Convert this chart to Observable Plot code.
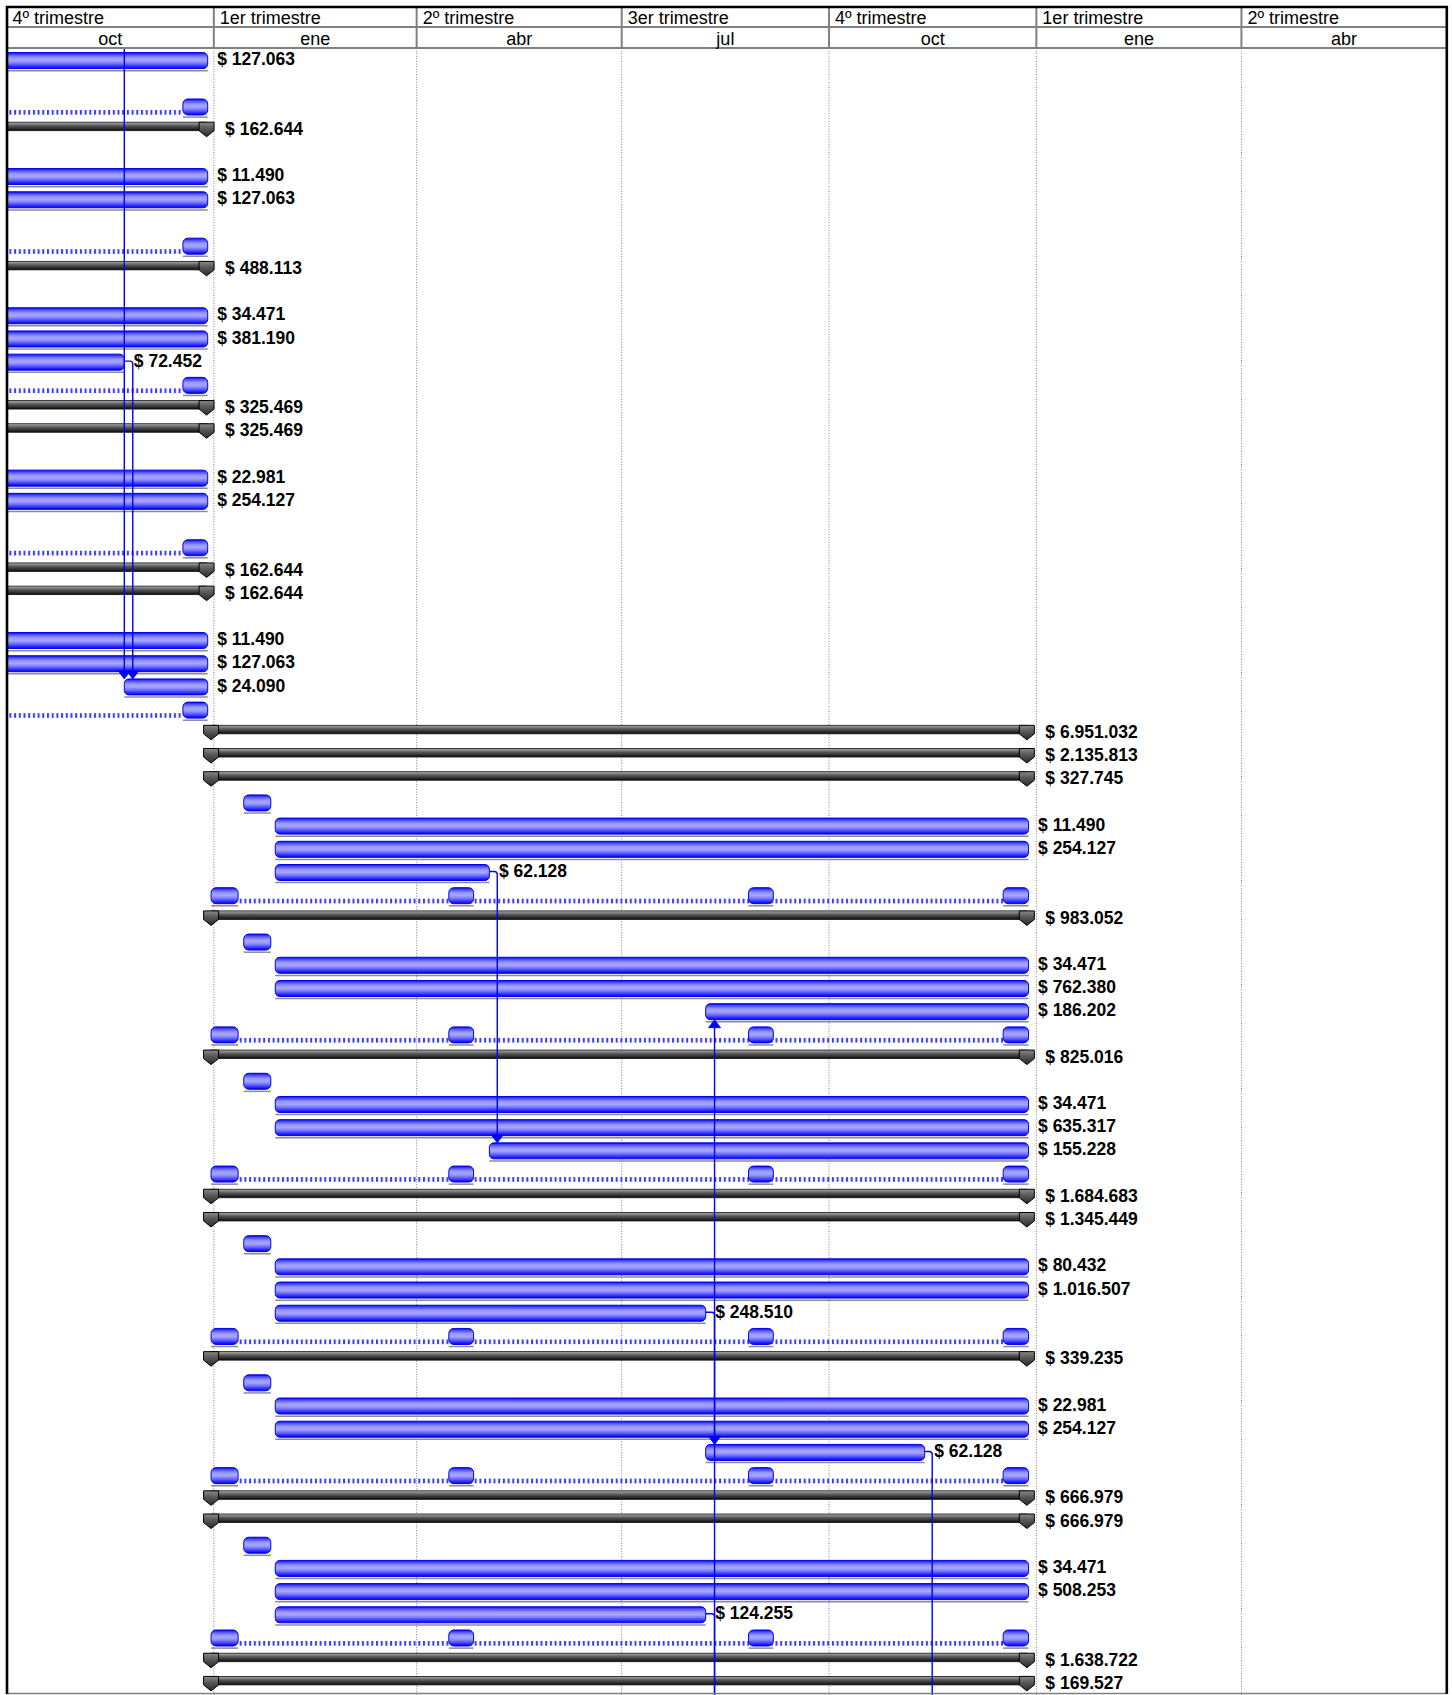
<!DOCTYPE html>
<html>
<head>
<meta charset="utf-8">
<script src="https://cdn.jsdelivr.net/npm/d3@7"></script>
<script src="https://cdn.jsdelivr.net/npm/@observablehq/plot@0.6"></script>
<style>
html, body { margin: 0; padding: 0; background: #fff; }
#chart svg { display: block; }
</style>
</head>
<body>
<div id="chart"></div>
<script>
// ---------- timescale header ----------
const quarterStarts = ["2022-10-01", "2023-01-01", "2023-04-01", "2023-07-01", "2023-10-01", "2024-01-01", "2024-04-01", "2024-07-01"];
const quarterLabels = ["4º trimestre", "1er trimestre", "2º trimestre", "3er trimestre", "4º trimestre", "1er trimestre", "2º trimestre"];
const monthLabels = ["oct", "ene", "abr", "jul", "oct", "ene", "abr"];

// ---------- tasks: [row, start, finish, cost] ----------
const tasks = [
  [0,  "2022-09-01", "2022-12-29T12:00", 127063],
  [5,  "2022-09-01", "2022-12-29T12:00", 11490],
  [6,  "2022-09-01", "2022-12-29T12:00", 127063],
  [11, "2022-09-01", "2022-12-29T12:00", 34471],
  [12, "2022-09-01", "2022-12-29T12:00", 381190],
  [13, "2022-09-01", "2022-11-22T12:00", 72452],
  [18, "2022-09-01", "2022-12-29T12:00", 22981],
  [19, "2022-09-01", "2022-12-29T12:00", 254127],
  [25, "2022-09-01", "2022-12-29T12:00", 11490],
  [26, "2022-09-01", "2022-12-29T12:00", 127063],
  [27, "2022-11-22T12:00", "2022-12-29T12:00", 24090],
  [33, "2023-01-28T12:00", "2023-12-28T18:00", 11490],
  [34, "2023-01-28T12:00", "2023-12-28T18:00", 254127],
  [35, "2023-01-28T12:00", "2023-05-03T12:00", 62128],
  [39, "2023-01-28T12:00", "2023-12-28T18:00", 34471],
  [40, "2023-01-28T12:00", "2023-12-28T18:00", 762380],
  [41, "2023-08-07T12:00", "2023-12-28T18:00", 186202],
  [45, "2023-01-28T12:00", "2023-12-28T18:00", 34471],
  [46, "2023-01-28T12:00", "2023-12-28T18:00", 635317],
  [47, "2023-05-03T12:00", "2023-12-28T18:00", 155228],
  [52, "2023-01-28T12:00", "2023-12-28T18:00", 80432],
  [53, "2023-01-28T12:00", "2023-12-28T18:00", 1016507],
  [54, "2023-01-28T12:00", "2023-08-07T12:00", 248510],
  [58, "2023-01-28T12:00", "2023-12-28T18:00", 22981],
  [59, "2023-01-28T12:00", "2023-12-28T18:00", 254127],
  [60, "2023-08-07T12:00", "2023-11-12T16:00", 62128],
  [65, "2023-01-28T12:00", "2023-12-28T18:00", 34471],
  [66, "2023-01-28T12:00", "2023-12-28T18:00", 508253],
  [67, "2023-01-28T12:00", "2023-08-07T12:00", 124255]
];

// ---------- short blue bars (no label): [row, start, finish] ----------
const shortBars = [
  [2,  "2022-12-18T12:00", "2022-12-29T12:00"],
  [8,  "2022-12-18T12:00", "2022-12-29T12:00"],
  [14, "2022-12-18T12:00", "2022-12-29T12:00"],
  [21, "2022-12-18T12:00", "2022-12-29T12:00"],
  [28, "2022-12-18T12:00", "2022-12-29T12:00"],
  [32, "2023-01-14T12:00", "2023-01-26T12:00"],
  [38, "2023-01-14T12:00", "2023-01-26T12:00"],
  [44, "2023-01-14T12:00", "2023-01-26T12:00"],
  [51, "2023-01-14T12:00", "2023-01-26T12:00"],
  [57, "2023-01-14T12:00", "2023-01-26T12:00"],
  [64, "2023-01-14T12:00", "2023-01-26T12:00"],
  [36, "2022-12-31", "2023-01-12"], [36, "2023-04-15T12:00", "2023-04-26T12:00"], [36, "2023-08-26T12:00", "2023-09-06T12:00"], [36, "2023-12-17T12:00", "2023-12-28T18:00"],
  [42, "2022-12-31", "2023-01-12"], [42, "2023-04-15T12:00", "2023-04-26T12:00"], [42, "2023-08-26T12:00", "2023-09-06T12:00"], [42, "2023-12-17T12:00", "2023-12-28T18:00"],
  [48, "2022-12-31", "2023-01-12"], [48, "2023-04-15T12:00", "2023-04-26T12:00"], [48, "2023-08-26T12:00", "2023-09-06T12:00"], [48, "2023-12-17T12:00", "2023-12-28T18:00"],
  [55, "2022-12-31", "2023-01-12"], [55, "2023-04-15T12:00", "2023-04-26T12:00"], [55, "2023-08-26T12:00", "2023-09-06T12:00"], [55, "2023-12-17T12:00", "2023-12-28T18:00"],
  [61, "2022-12-31", "2023-01-12"], [61, "2023-04-15T12:00", "2023-04-26T12:00"], [61, "2023-08-26T12:00", "2023-09-06T12:00"], [61, "2023-12-17T12:00", "2023-12-28T18:00"],
  [68, "2022-12-31", "2023-01-12"], [68, "2023-04-15T12:00", "2023-04-26T12:00"], [68, "2023-08-26T12:00", "2023-09-06T12:00"], [68, "2023-12-17T12:00", "2023-12-28T18:00"]
];

// ---------- dotted (recurring) lines: [row, start, finish] ----------
const dottedLines = [
  [2,  "2022-09-01", "2022-12-18T12:00"],
  [8,  "2022-09-01", "2022-12-18T12:00"],
  [14, "2022-09-01", "2022-12-18T12:00"],
  [21, "2022-09-01", "2022-12-18T12:00"],
  [28, "2022-09-01", "2022-12-18T12:00"],
  [36, "2023-01-12", "2023-12-17T12:00"],
  [42, "2023-01-12", "2023-12-17T12:00"],
  [48, "2023-01-12", "2023-12-17T12:00"],
  [55, "2023-01-12", "2023-12-17T12:00"],
  [61, "2023-01-12", "2023-12-17T12:00"],
  [68, "2023-01-12", "2023-12-17T12:00"]
];

// ---------- summary bars: [row, start, finish, cost] ----------
const summaries = [
  [3,  "2022-08-01", "2022-12-29", 162644],
  [9,  "2022-08-01", "2022-12-29", 488113],
  [15, "2022-08-01", "2022-12-29", 325469],
  [16, "2022-08-01", "2022-12-29", 325469],
  [22, "2022-08-01", "2022-12-29", 162644],
  [23, "2022-08-01", "2022-12-29", 162644],
  [29, "2022-12-31", "2023-12-28", 6951032],
  [30, "2022-12-31", "2023-12-28", 2135813],
  [31, "2022-12-31", "2023-12-28", 327745],
  [37, "2022-12-31", "2023-12-28", 983052],
  [43, "2022-12-31", "2023-12-28", 825016],
  [49, "2022-12-31", "2023-12-28", 1684683],
  [50, "2022-12-31", "2023-12-28", 1345449],
  [56, "2022-12-31", "2023-12-28", 339235],
  [62, "2022-12-31", "2023-12-28", 666979],
  [63, "2022-12-31", "2023-12-28", 666979],
  [69, "2022-12-31", "2023-12-28", 1638722],
  [70, "2022-12-31", "2023-12-28", 169527]
];

// ---------- dependency links: [fromRow, fromDate, elbowDate, toRow] ----------
const links = [
  ["above", null, "2022-11-22T12:00", 27],
  [13, "2022-11-22T12:00", "2022-11-26T06:00", 27],
  [35, "2023-05-03T12:00", "2023-05-07", 47],
  ["below", null, "2023-08-11T10:00", 41],
  [54, "2023-08-07T12:00", "2023-08-11T10:00", 60],
  [67, "2023-08-07T12:00", "2023-08-11T10:00", "below"],
  [60, "2023-11-12T16:00", "2023-11-16", "below"]
];

// ---------- helpers ----------
const parse = s => new Date(s.includes("T") ? s + ":00Z" : s + "T00:00:00Z");
const locale = d3.formatLocale({decimal: ",", thousands: ".", grouping: [3], currency: ["$ ", ""]});
const money = locale.format("$,.0f");
const rows = d3.range(71);

const toBar = ([row, s, e, cost]) => ({row, start: parse(s), end: parse(e), cost});
const taskData = tasks.map(toBar);
const shortData = shortBars.map(toBar);
const dottedData = dottedLines.map(toBar);
const summaryData = summaries.map(toBar);
const blueData = taskData.concat(shortData);

const qStarts = quarterStarts.map(parse);
const quarters = quarterLabels.map((label, i) => ({
  label, month: monthLabels[i], start: qStarts[i], end: qStarts[i + 1],
  mid: new Date((+qStarts[i] + +qStarts[i + 1]) / 2)
}));
const boundaries = qStarts.slice(1, -1);

// ---------- custom render marks ----------
function defsMark() {
  const defs = d3.create("svg:defs");
  const grad = (id, stops) => {
    const g = defs.append("linearGradient").attr("id", id).attr("x1", 0).attr("y1", 0).attr("x2", 0).attr("y2", 1);
    for (const [o, c] of stops) g.append("stop").attr("offset", o).attr("stop-color", c);
  };
  grad("taskGrad", [[0, "#0000ff"], [0.12, "#4a4aff"], [0.32, "#9898ff"], [0.5, "#a6a6ff"], [0.68, "#7474ff"], [0.86, "#2e2eff"], [1, "#0000e0"]]);
  grad("sumGrad", [[0, "#b4b4b4"], [0.18, "#8a8a8a"], [0.45, "#555555"], [0.75, "#2e2e2e"], [1, "#0a0a0a"]]);
  grad("capGrad", [[0, "#8a8a8a"], [0.4, "#5a5a5a"], [1, "#2a2a2a"]]);
  const pat = defs.append("pattern").attr("id", "dotPat").attr("patternUnits", "userSpaceOnUse")
    .attr("width", 4.7).attr("height", 40);
  pat.append("rect").attr("x", 0).attr("y", 0).attr("width", 2).attr("height", 40).attr("fill", "#3c3cff");
  return defs.node();
}

function capsMark(index, {x, y}) {
  const bw = y.bandwidth();
  const [x0, x1] = x.range();
  const g = d3.create("svg:g").attr("fill", "url(#capGrad)").attr("stroke", "#000").attr("stroke-width", 1);
  for (const s of summaryData) {
    const yc = y(s.row) + bw / 2;
    for (const d of [s.start, s.end]) {
      const cx = x(d);
      if (cx < x0 || cx > x1) continue;
      const hw = 7.5, top = yc - 7, mid = yc + 1.5, tip = yc + 7.5;
      g.append("path").attr("d", `M${cx - hw},${top}H${cx + hw}V${mid}L${cx},${tip}L${cx - hw},${mid}Z`);
    }
  }
  return g.node();
}

function linksMark(index, {x, y}) {
  const bw = y.bandwidth();
  const [yTop, yBot] = y.range();
  const yc = r => y(r) + bw / 2;
  const g = d3.create("svg:g");
  const lines = g.append("g").attr("fill", "none").attr("stroke", "#0000ff").attr("stroke-width", 1.4);
  const heads = g.append("g").attr("fill", "#0000ff").attr("stroke", "#0000ff").attr("stroke-width", 0.8);
  for (const [fromRow, fromDate, viaDate, toRow] of links) {
    const xv = x(parse(viaDate));
    const y0 = fromRow === "above" ? yTop : fromRow === "below" ? yBot : yc(fromRow);
    let tip;
    if (toRow === "below") tip = yBot;
    else tip = yc(toRow) > y0 ? yc(toRow) - 7 : yc(toRow) + 9;
    const dir = tip > y0 ? 1 : -1;
    const hasHead = toRow !== "below";
    const yEnd = hasHead ? tip - dir * 8 : tip;
    const p = d3.path();
    if (fromDate) {
      const xs = x(parse(fromDate));
      p.moveTo(xs, y0);
      p.lineTo(xv - 3, y0);
      p.quadraticCurveTo(xv, y0, xv, y0 + 3 * dir);
    } else {
      p.moveTo(xv, y0);
    }
    p.lineTo(xv, yEnd);
    lines.append("path").attr("d", p.toString());
    if (hasHead) {
      heads.append("path").attr("d", `M${xv - 6},${tip - dir * 8}H${xv + 6}L${xv},${tip}Z`);
    }
  }
  return g.node();
}

function frameMark(index, {x}, values, {width, height, marginTop}) {
  const [x0, x1] = x.range();
  const g = d3.create("svg:g");
  const line = (a, b, c, d, stroke, w) => g.append("line").attr("x1", a).attr("y1", b).attr("x2", c).attr("y2", d)
    .attr("stroke", stroke).attr("stroke-width", w);
  line(x0, 27, x1, 27, "#808080", 2);
  line(x0, marginTop, x1, marginTop, "#808080", 2);
  line(x0, height - 1.5, x1, height - 1.5, "#808080", 1.5);
  line(x0 + 1, 6, x0 + 1, height - 1, "#000", 2.6);
  line(x1 + 0.8, 6, x1 + 0.8, height - 1, "#000", 2.6);
  line(x0, 7, x1 + 2, 7, "#000", 2.6);
  return g.node();
}

// ---------- plot ----------
const chart = Plot.plot({
  width: 1452,
  height: 1695,
  marginTop: 48,
  marginBottom: 0,
  marginLeft: 6,
  marginRight: 6,
  style: {fontFamily: "'Liberation Sans', Arial, sans-serif", background: "#fff", overflow: "visible"},
  x: {type: "utc", domain: [qStarts[0], qStarts[qStarts.length - 1]], axis: null},
  y: {type: "band", domain: rows, padding: 0, round: false, axis: null},
  marks: [
    defsMark,
    // dotted vertical grid at quarter boundaries
    Plot.ruleX(boundaries, {x: d => d, stroke: "#808080", strokeWidth: 1, strokeDasharray: "1,1.6"}),
    // header cell dividers
    Plot.ruleX(boundaries, {x: d => d, stroke: "#808080", strokeWidth: 2, insetTop: -41, insetBottom: 1647}),
    // dotted recurring lines
    Plot.barX(dottedData, {x1: "start", x2: "end", y: "row", insetTop: 15.6, insetBottom: 2.9, fill: "url(#dotPat)", clip: true}),
    // gray shadow under blue bars
    Plot.ruleY(blueData, {x1: "start", x2: "end", y: "row", dy: 10.6, stroke: "#8c8c8c", strokeWidth: 1.5, clip: true}),
    // summary bars
    Plot.barX(summaryData, {x1: "start", x2: "end", y: "row", insetTop: 4.6, insetBottom: 10.1, fill: "url(#sumGrad)", stroke: "#111", strokeWidth: 0.8, clip: true}),
    capsMark,
    // blue task bars
    Plot.barX(taskData, {x1: "start", x2: "end", y: "row", insetTop: 4.6, insetBottom: 2.6, rx: 4.5, fill: "url(#taskGrad)", stroke: "#0000f0", strokeWidth: 1, clip: true}),
    Plot.barX(shortData, {x1: "start", x2: "end", y: "row", insetTop: 4.6, insetBottom: 2.6, rx: 5, fill: "url(#taskGrad)", stroke: "#0000f0", strokeWidth: 1, clip: true}),
    linksMark,
    // cost labels
    Plot.text(taskData, {x: "end", y: "row", text: d => money(d.cost), dx: 9, dy: -0.5, textAnchor: "start", lineAnchor: "middle", fontSize: 17.5, fontWeight: "bold", fill: "#000"}),
    Plot.text(summaryData, {x: "end", y: "row", text: d => money(d.cost), dx: 18, dy: -0.5, textAnchor: "start", lineAnchor: "middle", fontSize: 17.5, fontWeight: "bold", fill: "#000"}),
    // header
    frameMark,
    Plot.text(quarters, {x: "start", text: "label", frameAnchor: "top", lineAnchor: "middle", dx: 6, dy: -30, textAnchor: "start", fontSize: 18, fill: "#000"}),
    Plot.text(quarters, {x: "mid", text: "month", frameAnchor: "top", lineAnchor: "middle", dy: -9, textAnchor: "middle", fontSize: 18, fill: "#000"})
  ]
});
document.getElementById("chart").appendChild(chart);
</script>
</body>
</html>
